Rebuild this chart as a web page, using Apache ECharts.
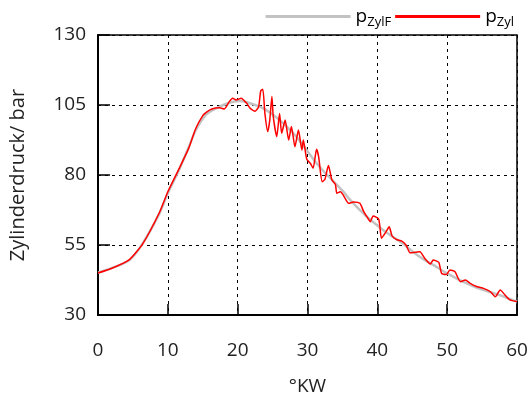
<!DOCTYPE html>
<html>
<head>
<meta charset="utf-8">
<script src="https://cdn.jsdelivr.net/npm/echarts@6/dist/echarts.min.js"></script>
<style>
  html, body { margin: 0; padding: 0; background: #fff; }
  #chart { width: 528px; height: 396px; }
</style>
</head>
<body>
<div id="chart"></div>
<script>
// Kurbelwinkel in °KW und Zylinderdruck in bar
const xTicks = [0, 10, 20, 30, 40, 50, 60];
const yTicks = [30, 55, 80, 105, 130];

// Gefilterter Druckverlauf p_ZylF: [°KW, bar]
const pZylF = [
  [0, 45.1], [2, 46.8], [4.5, 49.6], [6.4, 55.6], [8.8, 66.3], [10.0, 73.5],
  [11.6, 81.8], [13.0, 90.0], [14.0, 96.0], [15.5, 101.6], [16.9, 103.8],
  [18.8, 105.8], [20.2, 106.4], [21.3, 106.0], [22.5, 105.0], [23.7, 103.8],
  [25.0, 101.6], [26.1, 99.4], [27.3, 96.6], [28.5, 93.4], [29.9, 88.8],
  [31.3, 84.2], [32.5, 80.8], [33.7, 77.8], [35.0, 74.4], [36.1, 71.1],
  [37.3, 68.0], [38.5, 65.1], [39.7, 62.6], [40.9, 60.2], [42.3, 57.8],
  [43.5, 55.8], [44.6, 53.6], [45.7, 51.4], [46.8, 49.6], [48.0, 47.9],
  [49.2, 46.0], [50.4, 44.3], [51.6, 42.7], [52.8, 41.3], [54.0, 40.0],
  [55.2, 38.9], [56.4, 38.0], [57.6, 37.0], [58.8, 35.9], [60, 34.8]
];

// Gemessener Druckverlauf p_Zyl: [°KW, bar]
const pZyl = [
  [0, 45.0], [2, 46.7], [4.5, 49.8], [6.4, 55.4], [8.8, 66.6], [10.0, 74.0],
  [11.6, 82.2], [13.0, 89.6], [14.0, 96.6], [15.0, 101.2], [15.5, 102.4],
  [16.3, 103.6], [17.4, 104.0], [18.1, 103.6], [18.8, 106.2], [19.3, 107.4],
  [19.8, 106.8], [20.5, 107.4], [21.0, 106.4], [21.3, 105.6], [21.8, 103.8],
  [22.5, 102.8], [23.0, 104.4], [23.3, 110.0], [23.6, 110.6], [23.9, 102.0],
  [24.3, 95.5], [24.6, 99.6], [24.9, 108.0], [25.1, 100.8], [25.6, 93.7],
  [26.0, 102.0], [26.3, 94.9], [26.8, 99.6], [27.3, 92.5], [27.7, 97.3],
  [28.2, 90.1], [28.7, 96.1], [29.2, 88.9], [29.4, 92.5], [29.9, 85.6],
  [30.4, 84.2], [30.8, 82.4], [31.3, 89.2], [31.6, 86.5], [32.1, 77.6],
  [32.5, 78.5], [33.0, 83.4], [33.5, 78.2], [34.0, 76.6], [34.2, 73.5],
  [34.7, 74.0], [35.1, 72.9], [35.9, 69.9], [36.6, 70.4], [37.5, 69.9],
  [38.0, 67.2], [38.5, 65.1], [39.0, 63.3], [39.4, 65.4], [40.2, 64.2],
  [40.6, 57.4], [41.2, 59.5], [41.7, 61.5], [42.1, 58.3], [42.7, 57.0],
  [43.5, 56.4], [44.1, 55.0], [44.7, 52.2], [45.5, 52.4], [46.1, 52.6],
  [46.8, 50.2], [47.6, 48.2], [48.0, 49.6], [48.8, 48.8], [49.2, 44.9],
  [49.9, 44.5], [50.4, 46.1], [51.1, 45.5], [51.9, 41.9], [52.6, 42.5],
  [53.3, 41.3], [54.3, 40.1], [55.2, 39.5], [56.2, 38.3], [56.9, 36.5],
  [57.6, 38.9], [58.3, 37.1], [59.0, 35.4], [60, 34.8]
];

const FONT = '"Open Sans", sans-serif';
const chart = echarts.init(document.getElementById('chart'), null, { renderer: 'canvas' });

const dashed = { show: true, lineStyle: { color: '#000', width: 1, type: [3, 4] } };

chart.setOption({
  animation: false,
  backgroundColor: '#fff',
  textStyle: { fontFamily: FONT },
  grid: {
    left: 98, right: 11, top: 35, bottom: 81,
    outerBoundsMode: 'none', containLabel: false,
    show: true, borderColor: '#000', borderWidth: 1.5, backgroundColor: 'transparent'
  },
  legend: {
    right: 9, top: 2,
    itemWidth: 85, itemHeight: 3, itemGap: 4,
    icon: 'rect',
    textStyle: {
      fontFamily: FONT, color: '#000', fontSize: 19,
      rich: {
        p: { fontSize: 19, fontFamily: FONT, color: '#000' },
        s: { fontSize: 13, fontFamily: FONT, color: '#000', padding: [12, 0, 0, 0] }
      }
    },
    formatter: function (name) {
      return name === 'pZylF' ? '{p|p}{s|ZylF}' : '{p|p}{s|Zyl}';
    },
    data: ['pZylF', 'pZyl']
  },
  xAxis: [{
    type: 'value', min: 0, max: 60, interval: 10,
    name: '°KW', nameLocation: 'middle', nameGap: 62,
    nameTextStyle: { fontFamily: FONT, fontSize: 19, color: '#222' },
    axisLine: { show: true, lineStyle: { color: '#000', width: 2 } },
    axisTick: { show: true, inside: true, length: 11, lineStyle: { color: '#000', width: 1.5 } },
    axisLabel: {
      fontFamily: FONT, fontSize: 19, color: '#222', margin: 26,
      formatter: v => (xTicks.includes(v) ? String(v) : '')
    },
    splitLine: dashed
  }, {
    type: 'value', min: 0, max: 60, interval: 10, position: 'top',
    axisLine: { show: false },
    axisTick: { show: true, inside: true, length: 3, lineStyle: { color: '#000', width: 1 } },
    axisLabel: { show: false },
    splitLine: { show: false }
  }],
  yAxis: {
    type: 'value', min: 30, max: 130, interval: 25,
    name: 'Zylinderdruck/ bar', nameLocation: 'middle', nameGap: 70,
    nameTextStyle: { fontFamily: FONT, fontSize: 20, color: '#222' },
    axisLine: { show: true, lineStyle: { color: '#000', width: 2 } },
    axisTick: { show: true, inside: true, length: 12, lineStyle: { color: '#000', width: 1.5 } },
    axisLabel: {
      fontFamily: FONT, fontSize: 19, color: '#222', margin: 12,
      formatter: v => (yTicks.includes(v) ? String(v) : '')
    },
    splitLine: dashed
  },
  series: [{
    name: 'pZylF', type: 'line', data: pZylF, smooth: 0.3,
    showSymbol: false, symbol: 'none',
    lineStyle: { color: '#c3c3c3', width: 2.5 },
    itemStyle: { color: '#c3c3c3' },
    z: 2
  }, {
    name: 'pZyl', type: 'line', data: pZyl, smooth: 0.2,
    showSymbol: false, symbol: 'none',
    lineStyle: { color: '#ff0000', width: 1.5 },
    itemStyle: { color: '#ff0000' },
    z: 3
  }]
});
</script>
</body>
</html>
